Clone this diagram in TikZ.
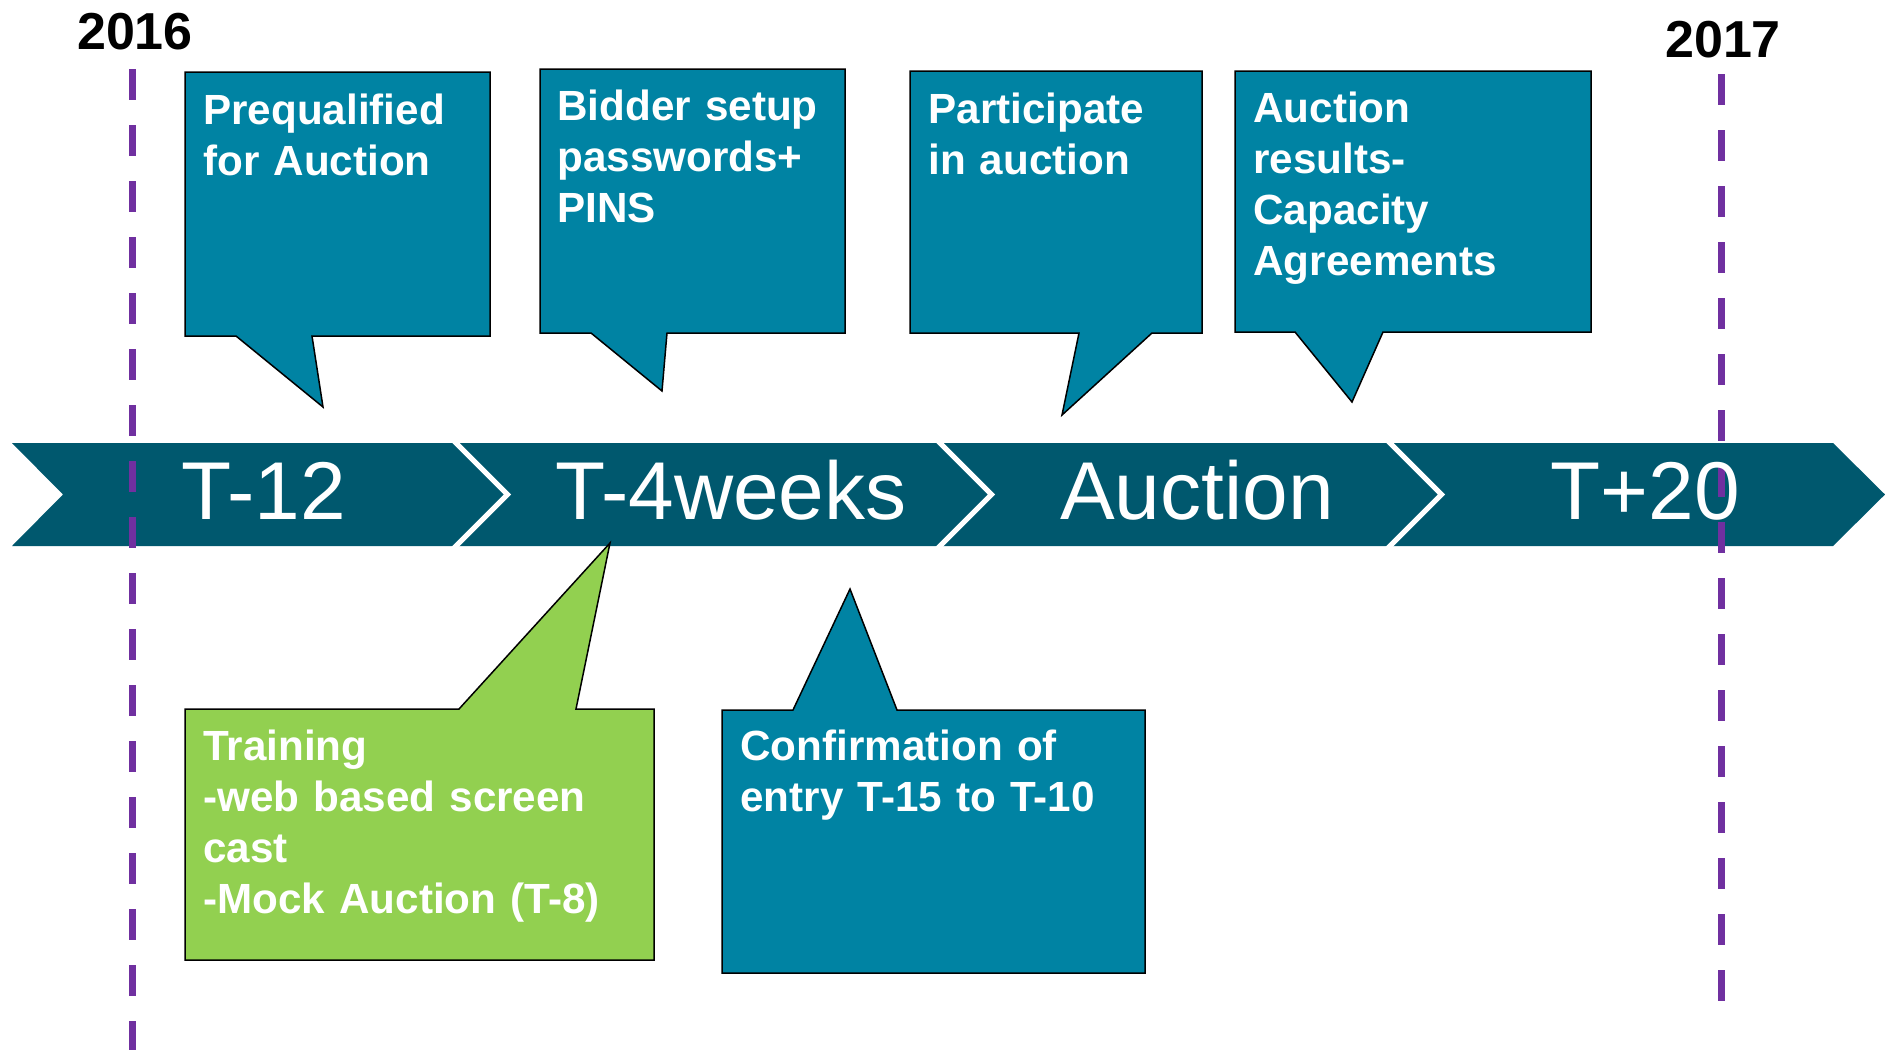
\documentclass[tikz,border=0pt]{standalone}
\usepackage{fontspec}
\setmainfont{Liberation Sans}
\usepackage{tikz}
\definecolor{bandteal}{RGB}{0, 88, 110}
\definecolor{boxteal}{RGB}{0, 131, 163}
\definecolor{trainlime}{RGB}{146, 208, 80}
\definecolor{yearpurple}{RGB}{112, 48, 160}

\begin{document}
\begin{tikzpicture}[x=0.5pt, y=-0.5pt,
    callout/.style={fill=boxteal, draw=black, line width=0.75pt, line join=miter},
    boxtext/.style={text=white, font=\bfseries\fontsize{21.1}{25.5}\selectfont, align=left,
          text width=220pt, inner sep=0pt, anchor=base west},
    stagelabel/.style={text=white, font=\fontsize{41}{41}\selectfont, inner sep=0pt, anchor=base},
    yearlabel/.style={font=\bfseries\fontsize{26}{26}\selectfont, inner sep=0pt, anchor=base},
    yearline/.style={yearpurple, line width=3.5pt, dash pattern=on 15.5pt off 12.5pt},
    gapline/.style={white, line width=2.5pt}]
    \useasboundingbox (0,0) rectangle (1885,1050);

    \fill[bandteal] (12,443) -- (1833,443) -- (1885,494.5) -- (1833,546) -- (12,546) -- (63,494.5) -- cycle;
    \foreach \bx in {456,940,1390}
        \draw[gapline] (\bx-4,439) -- (\bx+51.5,494.5) -- (\bx-4,550);

    \draw[yearline] (132,69) -- (132,1050);
    \draw[yearline] (1721,74) -- (1721,1002);
    \node[yearlabel] (y2016) at (135,49) {2016};
    \node[yearlabel] (y2017) at (1723,57) {2017};

    \node[stagelabel] (t12) at (264,519) {T-12};
    \node[stagelabel] (t4weeks) at (731,519) {T-4weeks};
    \node[stagelabel] (auction) at (1197,519) {Auction};
    \node[stagelabel] (t20) at (1645,519) {T+20};

    \draw[callout] (185,72) -- (490,72) -- (490,336) -- (312,336) -- (323,407) -- (236,336) -- (185,336) -- cycle;
    \node[boxtext] (prequal) at (203,124) {Prequalified\\for Auction};

    \draw[callout] (540,69) -- (845,69) -- (845,333) -- (667,333) -- (662,391) -- (591,333) -- (540,333) -- cycle;
    \node[boxtext] (bidder) at (557,120) {Bidder setup\\passwords+\\PINS};

    \draw[callout] (910,71) -- (1202,71) -- (1202,333) -- (1152,333) -- (1062,415) -- (1079,333) -- (910,333) -- cycle;
    \node[boxtext] (participate) at (928,123) {Participate\\in auction};

    \draw[callout] (1235,71) -- (1591,71) -- (1591,332) -- (1383,332) -- (1352,402) -- (1295,332) -- (1235,332) -- cycle;
    \node[boxtext] (results) at (1253,122) {Auction\\results-\\Capacity\\Agreements};

    \draw[callout, fill=trainlime] (185,709) -- (459,709) -- (610,543) -- (576,709) -- (654,709) -- (654,960) -- (185,960) -- cycle;
    \node[boxtext] (training) at (203,760) {Training\\-web based screen\\cast\\-Mock Auction (T-8)};

    \draw[callout] (722,710) -- (793,710) -- (850,589) -- (897,710) -- (1145,710) -- (1145,973) -- (722,973) -- cycle;
    \node[boxtext] (confirm) at (740,760) {Confirmation of\\entry T-15 to T-10};
\end{tikzpicture}
\end{document}
